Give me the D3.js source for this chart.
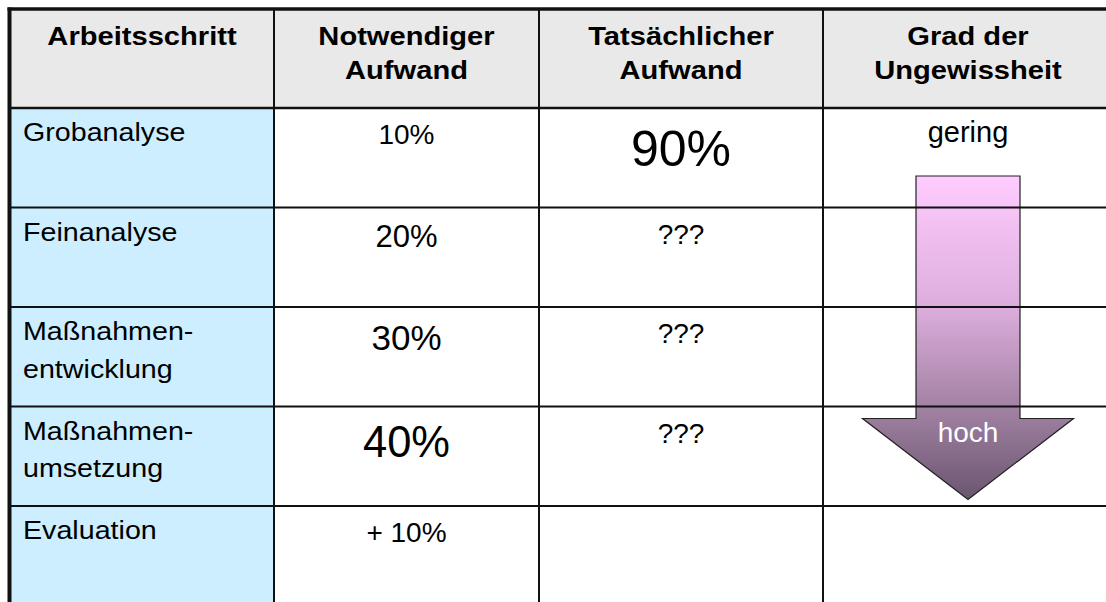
<!DOCTYPE html>
<html>
<head>
<meta charset="utf-8">
<script src="https://cdn.jsdelivr.net/npm/d3@7"></script>
<style>
  html, body { margin: 0; padding: 0; background: #fff; }
  svg { display: block; }
  text { font-family: "Liberation Sans", Arial, Helvetica, sans-serif; }
</style>
</head>
<body>
<svg id="chart" width="1106" height="602"></svg>
<script>
// ---------------- data ----------------
const headers = ["Arbeitsschritt", "Notwendiger\nAufwand", "Tatsächlicher\nAufwand", "Grad der\nUngewissheit"];
const steps = ["Grobanalyse", "Feinanalyse", "Maßnahmen-\nentwicklung", "Maßnahmen-\numsetzung", "Evaluation"];
const notwendigValues = [10, 20, 30, 40, 10];
const notwendigPrefix = ["", "", "", "", "+ "];
const tatsaechlich = ["90%", "???", "???", "???", ""];
const ungewissheitLabels = ["gering", "hoch"];

// ---------------- layout ----------------
const W = 1106, H = 602;
const colEdges = [10, 274, 539, 823, 1113];
const headerTop = 10, headerBottom = 108;
const rowHeight = 99.5;
const svg = d3.select("#chart");

const y = d3.scaleBand()
  .domain(d3.range(steps.length))
  .range([headerBottom, headerBottom + rowHeight * steps.length])
  .paddingInner(0).paddingOuter(0);

const colX = i => colEdges[i];
const colMid = i => (colEdges[i] + colEdges[i + 1]) / 2;

// font size of "Notwendiger Aufwand" grows with the value
const notSize = d3.scaleLinear().domain([10, 20, 30, 40]).range([28, 31, 35, 43.5]);
const bigSize = 50;
const smallSize = 28;
const labelSize = 25.6;
const headerSize = 26;
const stretch = 1.12;
const padTop = 11;

// ---------------- backgrounds ----------------
svg.append("rect").attr("x", colX(0)).attr("y", headerTop)
  .attr("width", W - colX(0)).attr("height", headerBottom - headerTop)
  .attr("fill", "#e9e9e9");
svg.append("rect").attr("x", colX(0)).attr("y", headerBottom)
  .attr("width", colX(1) - colX(0)).attr("height", H - headerBottom)
  .attr("fill", "#cceeff");

// ---------------- arrow ----------------
const defs = svg.append("defs");
const grad = defs.append("linearGradient").attr("id", "arrowGrad")
  .attr("x1", 0).attr("y1", 0).attr("x2", 0).attr("y2", 1);
[[0, "#ffccff"], [0.4, "#ddaedd"], [0.7, "#a584a6"], [1, "#6a5670"]]
  .forEach(([o, c]) => grad.append("stop").attr("offset", o).attr("stop-color", c));

const ax = colMid(3);
const shaftHalf = 52, headHalf = 105.5;
const aTop = y(0) + 68, aHead = y(3) + 12, aTip = y(3) + 93;
const arrowPath = d3.path();
arrowPath.moveTo(ax - shaftHalf, aTop);
arrowPath.lineTo(ax + shaftHalf, aTop);
arrowPath.lineTo(ax + shaftHalf, aHead);
arrowPath.lineTo(ax + headHalf, aHead);
arrowPath.lineTo(ax, aTip);
arrowPath.lineTo(ax - headHalf, aHead);
arrowPath.lineTo(ax - shaftHalf, aHead);
arrowPath.closePath();
svg.append("path").attr("d", arrowPath.toString())
  .attr("fill", "url(#arrowGrad)").attr("stroke", "#222").attr("stroke-width", 1.2);

// ---------------- grid lines ----------------
const lines = svg.append("g").attr("stroke", "#111");
lines.selectAll("line.row").data(d3.range(steps.length)).join("line")
  .attr("class", "row")
  .attr("x1", colX(0)).attr("x2", W)
  .attr("y1", d => y(d)).attr("y2", d => y(d))
  .attr("stroke-width", d => d === 0 ? 2.6 : 2);
lines.selectAll("line.col").data([1, 2, 3]).join("line")
  .attr("class", "col")
  .attr("x1", d => colX(d)).attr("x2", d => colX(d))
  .attr("y1", headerTop - 2).attr("y2", H)
  .attr("stroke-width", 2);
lines.append("line").attr("x1", 7.5).attr("x2", W).attr("y1", 9).attr("y2", 9).attr("stroke-width", 3.5);
lines.append("line").attr("x1", 9.5).attr("x2", 9.5).attr("y1", 7.5).attr("y2", H).attr("stroke-width", 4);

// ---------------- text ----------------
function stretchedText(x, yy, str, lh, opts) {
  const g = svg.append("g").attr("transform", `translate(${x},${yy}) scale(${stretch},1)`);
  const t = g.append("text").attr("x", 0).attr("y", 0)
    .attr("text-anchor", opts.anchor).attr("font-size", opts.size)
    .attr("font-weight", opts.weight || "normal").attr("fill", "#000");
  str.split("\n").forEach((s, i) => t.append("tspan").attr("x", 0).attr("dy", i === 0 ? 0 : lh).text(s));
}

headers.forEach((h, i) => {
  stretchedText(colMid(i), headerTop + 35, h, 34, { anchor: "middle", size: headerSize, weight: "bold" });
});

steps.forEach((s, i) => {
  stretchedText(colX(0) + 13, y(i) + 33, s, 38, { anchor: "start", size: labelSize });
});

notwendigValues.forEach((v, i) => {
  const fs = notSize(v);
  svg.append("text").attr("x", colMid(1)).attr("y", y(i) + padTop + 0.905 * fs)
    .attr("text-anchor", "middle").attr("font-size", fs).attr("fill", "#000")
    .text(notwendigPrefix[i] + v + "%");
});

tatsaechlich.forEach((v, i) => {
  if (!v) return;
  const fs = i === 0 ? bigSize : smallSize;
  svg.append("text").attr("x", colMid(2)).attr("y", y(i) + padTop + 0.905 * fs + (i === 0 ? 1.5 : 0))
    .attr("text-anchor", "middle").attr("font-size", fs).attr("fill", "#000")
    .text(v);
});

svg.append("text").attr("x", ax).attr("y", y(0) + 34)
  .attr("text-anchor", "middle").attr("font-size", 29).attr("fill", "#000")
  .text(ungewissheitLabels[0]);
svg.append("text").attr("x", ax).attr("y", aHead + 23.5)
  .attr("text-anchor", "middle").attr("font-size", 28).attr("fill", "#fff")
  .text(ungewissheitLabels[1]);
</script>
</body>
</html>
